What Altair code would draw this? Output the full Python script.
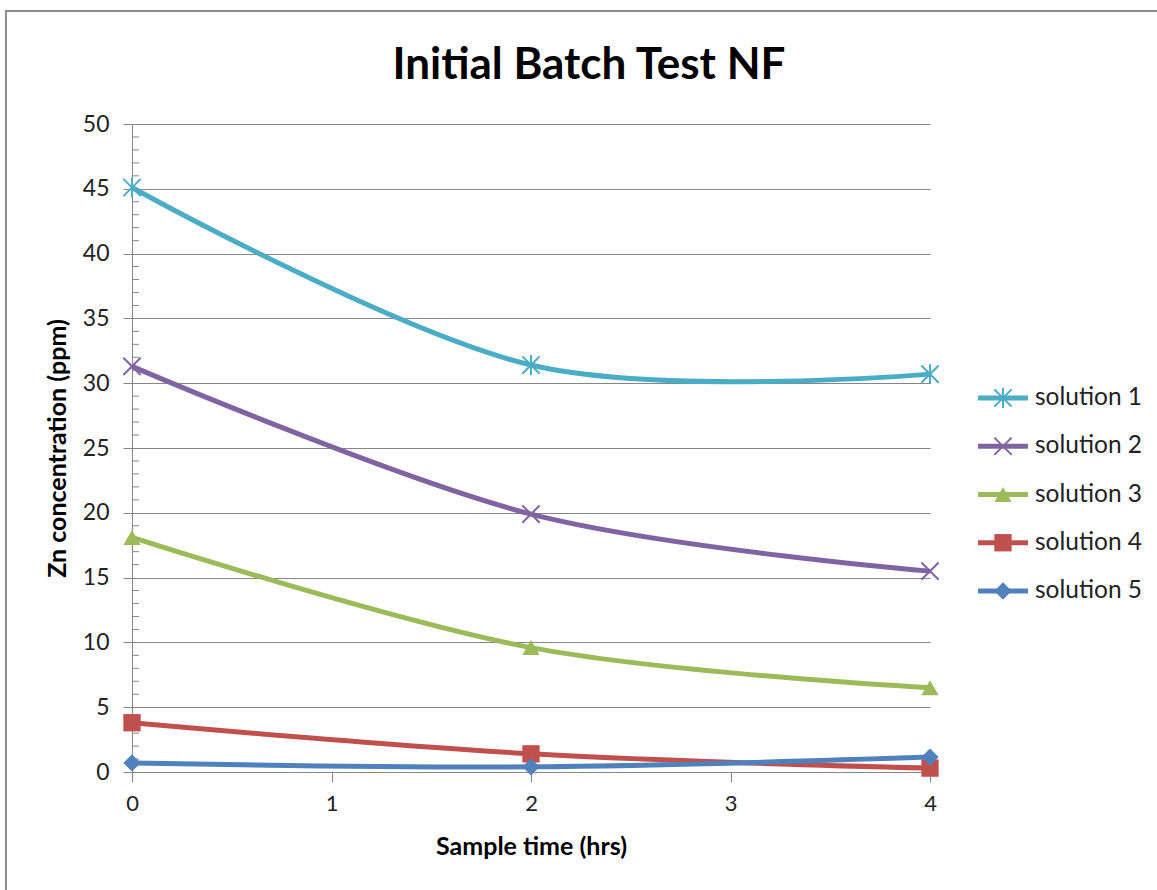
import altair as alt
import pandas as pd

# Sample times (hrs) and Zn concentration (ppm) for each solution
time_hrs = [0, 2, 4]
series_names = ["solution 1", "solution 2", "solution 3", "solution 4", "solution 5"]
solution_1 = [45.1, 31.4, 30.7]
solution_2 = [31.3, 19.9, 15.5]
solution_3 = [18.1, 9.6, 6.5]
solution_4 = [3.8, 1.4, 0.3]
solution_5 = [0.7, 0.4, 1.15]

series_colors = ["#4BACC6", "#8064A2", "#9BBB59", "#C0504D", "#4F81BD"]
# star, x, triangle, square, diamond
series_shapes = [
    "M-1,-1L1,1M-1,1L1,-1M0,-1.15L0,1.15",
    "M-1,-1L1,1M-1,1L1,-1",
    "triangle-up",
    "square",
    "diamond",
]
open_markers = ["solution 1", "solution 2"]

y_major = list(range(0, 51, 5))
y_minor = [v for v in range(0, 51) if v % 5]
x_ticks = [0, 1, 2, 3, 4]
chart_title = "Initial Batch Test NF"

rows = []
for name, vals in zip(series_names, [solution_1, solution_2, solution_3, solution_4, solution_5]):
    for t, v in zip(time_hrs, vals):
        rows.append({"time": t, "conc": v, "series": name})
df = pd.DataFrame(rows)
legend_df = pd.DataFrame({"series": series_names})
minor_df = pd.DataFrame({"tick": y_minor})

FONT = "Lato"
GRAY = "#868686"
TEXT = "#222222"
W, H = 798, 648

color = alt.Color("series:N", scale=alt.Scale(domain=series_names, range=series_colors), legend=None)
shape = alt.Shape("series:N", scale=alt.Scale(domain=series_names, range=series_shapes), legend=None)

x_enc = alt.X(
    "time:Q",
    scale=alt.Scale(domain=[0, 4], nice=False, zero=False),
    axis=alt.Axis(
        values=x_ticks, format="d", grid=False, tickSize=10, tickColor=GRAY, domainColor=GRAY,
        labelFontSize=22, labelColor=TEXT, labelPadding=11, labelFont=FONT, labelFlush=False,
        title="Sample time (hrs)", titleFontSize=25, titleFont=FONT, titleFontWeight="bold",
        titleColor="#000000", titlePadding=20,
    ),
)
y_scale = alt.Scale(domain=[0, 50], nice=False, zero=True)
y_enc = alt.Y(
    "conc:Q",
    scale=y_scale,
    axis=alt.Axis(
        values=y_major, grid=True, gridColor=GRAY, gridWidth=1, tickSize=9, tickColor=GRAY,
        domainColor=GRAY, labelFontSize=23, labelColor=TEXT, labelPadding=14, labelFont=FONT,
        title="Zn concentration (ppm)", titleFontSize=25, titleFont=FONT, titleFontWeight="bold",
        titleColor="#000000", titlePadding=12,
    ),
)

base = alt.Chart(df)
lines = base.mark_line(interpolate="cardinal", strokeWidth=5).encode(
    x=x_enc, y=y_enc, color=color, detail="series:N"
)
pts_open = base.transform_filter(
    alt.FieldOneOfPredicate(field="series", oneOf=open_markers)
).mark_point(filled=False, strokeWidth=2, size=300, opacity=1).encode(
    x="time:Q", y="conc:Q", color=color, shape=shape
)
pts_filled = base.transform_filter(
    {"not": alt.FieldOneOfPredicate(field="series", oneOf=open_markers)}
).mark_point(filled=True, size=300, opacity=1).encode(
    x="time:Q", y="conc:Q", color=color, shape=shape
)
minor_ticks = alt.Chart(minor_df).mark_rule(color=GRAY, strokeWidth=1).encode(
    y=alt.Y("tick:Q", scale=y_scale), x=alt.value(0), x2=alt.value(7)
)
frame = alt.Chart(alt.Data(values=[{}])).mark_rect(
    fill="transparent", stroke="#8c8c8c", strokeWidth=2
).encode(x=alt.value(-126), x2=alt.value(1200), y=alt.value(-113), y2=alt.value(900))
heading = alt.Chart(alt.Data(values=[{"label": chart_title}])).mark_text(
    font=FONT, fontSize=44, fontWeight="bold", color="#000000", align="center", baseline="alphabetic"
).encode(text="label:N", x=alt.value(457), y=alt.value(-45))

main = alt.layer(frame, heading, lines, minor_ticks, pts_open, pts_filled)

# Line-and-marker legend on the right of the plot
leg_y = alt.Y("series:N", scale=alt.Scale(type="point", domain=series_names, range=[274, 467], padding=0), axis=None)
leg_base = alt.Chart(legend_df)
leg_line = leg_base.mark_rule(strokeWidth=5).encode(
    y=leg_y, x=alt.value(846), x2=alt.value(896), color=color
)
leg_open = leg_base.transform_filter(
    alt.FieldOneOfPredicate(field="series", oneOf=open_markers)
).mark_point(filled=False, strokeWidth=2, size=300, opacity=1).encode(
    y=leg_y, x=alt.value(871), color=color, shape=shape
)
leg_filled = leg_base.transform_filter(
    {"not": alt.FieldOneOfPredicate(field="series", oneOf=open_markers)}
).mark_point(filled=True, size=300, opacity=1).encode(
    y=leg_y, x=alt.value(871), color=color, shape=shape
)
leg_text = leg_base.mark_text(align="left", baseline="middle", fontSize=24.5, font=FONT, color=TEXT).encode(
    y=leg_y, x=alt.value(903), text="series:N"
)
legend = alt.layer(leg_line, leg_open, leg_filled, leg_text)

chart = alt.layer(main, legend).resolve_scale(y="independent").properties(
    width=W,
    height=H,
    autosize=alt.AutoSizeParams(type="none"),
    padding={"left": 132, "top": 124, "right": 227, "bottom": 118},
    background="white",
).configure_view(stroke=None)

chart.save("out.html", embed_options={"renderer": "svg", "actions": False})
